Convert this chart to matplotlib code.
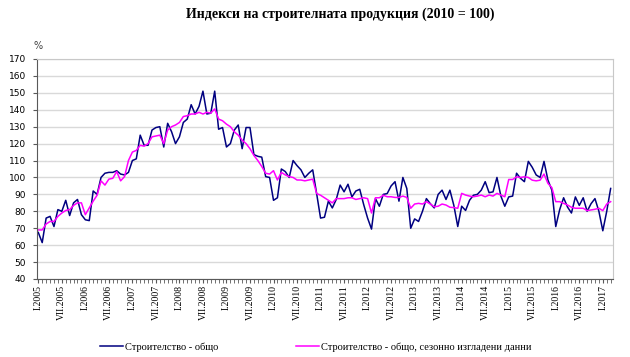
import numpy as np
import matplotlib.pyplot as plt
from matplotlib.ticker import MultipleLocator

# Monthly indices, I.2005 - III.2017 (2010 = 100)
total = [
    67.5, 61.5, 76, 77, 71, 81, 80, 86.5, 77.5, 85, 87, 78,          # 2005
    75, 74.5, 92, 90, 100, 102.5, 103, 103, 104, 102, 101.5, 103,    # 2006
    110, 111, 125, 119, 119, 128, 129.5, 130, 118, 132, 127, 120,    # 2007
    124, 132.5, 134.5, 143, 137.5, 142, 151, 137.5, 138, 151, 128.5, 129.5,  # 2008
    118, 120, 128, 131, 117, 129.5, 129.5, 113.5, 112.5, 112, 100.5, 100,    # 2009
    86.5, 88, 105, 103.5, 100, 110, 107, 104.5, 100, 102.5, 104.5, 90.5,     # 2010
    76, 76.5, 86, 82, 87, 95.5, 91.5, 96, 88.5, 92, 93, 84,          # 2011
    76, 69.5, 87.5, 83, 90, 90.5, 95, 97.5, 86, 100, 93.5, 70,       # 2012
    75.5, 74, 80, 87.5, 84.5, 82, 90, 92.5, 87, 92.5, 83.5, 71,      # 2013
    83, 80.5, 86.5, 89.5, 90, 92.5, 97.5, 91, 91.5, 100, 89, 83,     # 2014
    88.5, 89, 102.5, 99.5, 97.5, 109.5, 106, 101.5, 100, 109.5, 98.5, 92.5,  # 2015
    71, 81, 88, 82.5, 79, 88.5, 83.5, 88, 80, 84.5, 87.5, 80,        # 2016
    68.5, 80, 93.5,                                                  # 2017
]

smoothed = [
    69, 69, 72.5, 74, 74, 77, 79, 80.5, 81, 83.5, 85, 85,
    78, 82, 86, 89.5, 98, 95.5, 99, 99.5, 103.5, 98, 100.5, 110,
    115, 116, 119, 118.5, 120, 124, 124.5, 125, 120, 128, 130, 131,
    132.5, 136, 136.5, 137.5, 137.5, 138.5, 137.5, 138.5, 138, 140.5, 134.5, 133.5,
    131.5, 130, 127, 125, 122, 120, 117, 113, 110, 106.5, 102.5, 102,
    104, 98.5, 103, 101.5, 100.5, 100, 98.5, 98.5, 98, 98.5, 99, 90.5,
    89.5, 88, 86.5, 85, 87.5, 87.5, 87.5, 88, 88, 87, 87.5, 88,
    87.5, 79, 88, 88, 89.5, 88.6, 88.6, 88.2, 88.2, 89, 88.2, 81.8,
    84.3, 84.7, 84.3, 85.7, 84.3, 82.7, 83, 84.3, 83.7, 82.4, 82.2, 81.8,
    90.6, 89.6, 89, 88.6, 89, 89.6, 88.6, 89.6, 89, 90.6, 89.6, 88.6,
    98.8, 98.8, 100.4, 100, 100.4, 100, 98.4, 98, 98.4, 102, 96.5, 94,
    85.7, 85.7, 84.7, 83.7, 82.4, 81.8, 81.8, 81.8, 80.4, 80.8, 81.2, 81.8,
    80.4, 84.3, 85.7,
]

years = list(range(2005, 2018))
tick_labels = []
for y in years:
    tick_labels += ['I.%d' % y, 'VII.%d' % y]
tick_labels = tick_labels[:-1]

title = 'Индекси на строителната продукция (2010 = 100)'
label_total = 'Строителство - общо'
label_smooth = 'Строителство - общо, сезонно изгладени данни'

serif = 'Liberation Serif'
x = np.arange(len(total))

fig = plt.figure(figsize=(6.3, 3.57), dpi=100)
ax = fig.add_axes([37 / 630, 1 - 279 / 357, (613 - 37) / 630, (279 - 59) / 357])

l1, = ax.plot(x, total, color='#000080', lw=1.1)
l2, = ax.plot(x, smoothed, color='#FF00FF', lw=1.1)

ax.set_xlim(-0.33, 146.6)
ax.set_ylim(40, 170)
ax.yaxis.set_major_locator(MultipleLocator(10))
ax.yaxis.grid(True, color='#D9D9D9', lw=1)
ax.set_axisbelow(True)

ax.set_xticks(np.arange(0, 6 * len(tick_labels), 6))
ax.set_xticklabels(tick_labels, rotation=90, fontsize=7, family=serif)
ax.xaxis.set_minor_locator(MultipleLocator(1))
ax.tick_params(axis='x', which='both', length=3, pad=1.5, color='#595959')
ax.tick_params(axis='y', length=3, pad=5, labelsize=6.5, color='#595959')

for s in ['top', 'right']:
    ax.spines[s].set_color('#C8C8C8')
for s in ['left', 'bottom']:
    ax.spines[s].set_color('#595959')

fig.text(340 / 630, 1 - 14 / 357, title, ha='center', va='center',
         fontsize=10, fontweight='bold', family=serif)
fig.text(38 / 630, 1 - 46 / 357, '%', ha='center', va='center', fontsize=7, color='#404040')

fig.legend([l1, l2], [label_total, label_smooth], loc='center left',
           bbox_to_anchor=(100 / 630, 1 - 347 / 357), ncol=2, frameon=False,
           prop={'family': serif, 'size': 7.5}, handlelength=2.2,
           handletextpad=0.2, columnspacing=7.5, borderpad=0, borderaxespad=0)

fig.savefig('out.png', dpi=100)
